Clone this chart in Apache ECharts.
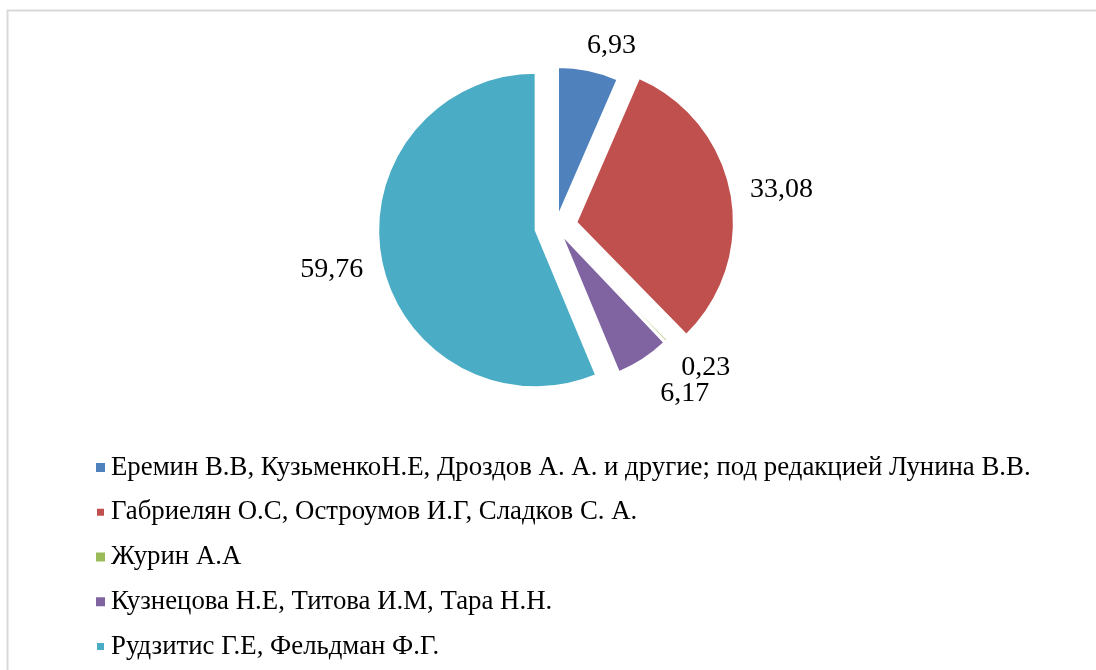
<!DOCTYPE html>
<html>
<head>
<meta charset="utf-8">
<script src="https://cdn.jsdelivr.net/npm/echarts@6/dist/echarts.min.js"></script>
<style>
html,body{margin:0;padding:0;background:#fff;}
#chart{width:1096px;height:670px;}
</style>
</head>
<body>
<div id="chart"></div>
<script>
// ---- data ----
const categories = [
  'Еремин В.В, КузьменкоН.Е, Дроздов А. А. и другие; под редакцией Лунина В.В.',
  'Габриелян О.С, Остроумов И.Г, Сладков С. А.',
  'Журин А.А',
  'Кузнецова Н.Е, Титова И.М, Тара Н.Н.',
  'Рудзитис Г.Е, Фельдман Ф.Г.'
];
const values = [6.93, 33.08, 0.23, 6.17, 59.76];
const valueLabels = ['6,93', '33,08', '0,23', '6,17', '59,76'];

// ---- styles ----
const colors = ['#4F81BD', '#C0504D', '#9BBB59', '#8064A2', '#4BACC6'];
// which slices belong to the larger / more exploded ring
const bigGroup = [false, true, false, false, true];
const labelShift = [[-8.5, -15], [4, -2], [3, 20], [7, 26], [-3.3, 7]];
const FONT = '"Liberation Serif", "Times New Roman", serif';

const chart = echarts.init(document.getElementById('chart'), null, {renderer: 'canvas'});

function makeData(group) {
  return categories.map((name, i) => {
    const mine = bigGroup[i] === group;
    return {
      name: name,
      value: values[i],
      selected: mine,
      itemStyle: mine ? {color: colors[i]} : {color: 'rgba(0,0,0,0)', borderWidth: 0},
      label: {show: mine}
    };
  });
}

function makeSeries(group, radius, offset) {
  return {
    type: 'pie',
    center: [556, 226],
    radius: radius,
    startAngle: 90,
    clockwise: true,
    selectedMode: 'multiple',
    selectedOffset: offset,
    avoidLabelOverlap: false,
    minShowLabelAngle: 0,
    silent: true,
    labelLayout: p => ({
      dx: labelShift[p.dataIndex][0],
      dy: labelShift[p.dataIndex][1],
      hideOverlap: false
    }),
    itemStyle: {borderColor: '#fff', borderWidth: 1.5},
    label: {
      show: true,
      position: 'outside',
      formatter: p => valueLabels[p.dataIndex],
      fontFamily: FONT,
      fontSize: 28,
      color: '#000'
    },
    labelLine: {show: false, length: 10, length2: 0},
    emphasis: {disabled: true},
    select: {itemStyle: {}},
    data: makeData(group)
  };
}

chart.setOption({
  animation: false,
  backgroundColor: '#ffffff',
  graphic: [{
    type: 'rect',
    shape: {x: 7.5, y: 10.5, width: 1200, height: 800},
    style: {fill: 'none', stroke: '#d9d9d9', lineWidth: 2},
    silent: true
  }],
  legend: {
    orient: 'vertical',
    left: 90,
    top: 449,
    icon: 'rect',
    itemWidth: 9,
    itemHeight: 9,
    itemGap: 17.75,
    data: categories.map((name, i) => ({name: name, itemStyle: {color: colors[i]}})),
    selectedMode: false,
    textStyle: {
      fontFamily: FONT,
      fontSize: 26.8,
      lineHeight: 27,
      color: '#000',
      padding: [0, 0, 0, 1]
    }
  },
  series: [
    makeSeries(true, 157, 21),
    makeSeries(false, 148, 11)
  ]
});
</script>
</body>
</html>
